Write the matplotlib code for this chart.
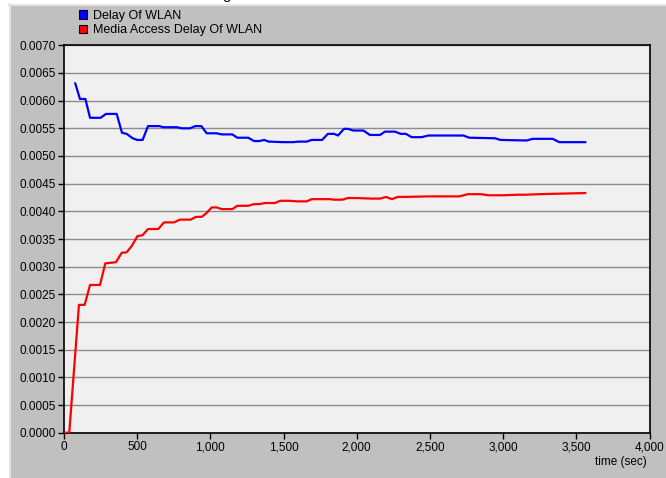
import matplotlib
matplotlib.use("Agg")
import matplotlib.pyplot as plt
from matplotlib.patches import Patch, Rectangle
from matplotlib.ticker import FuncFormatter, MultipleLocator

plt.rcParams['font.family'] = ['Liberation Sans', 'DejaVu Sans']

# Delay Of WLAN (blue)
t_delay = [77, 109, 146, 178, 250, 287, 360, 396, 428, 469, 501, 537, 574, 651, 678,
           770, 804, 861, 897, 938, 975, 1043, 1077, 1150, 1184, 1259, 1298, 1334,
           1368, 1398, 1498, 1567, 1601, 1658, 1692, 1763, 1803, 1845, 1872, 1913,
           1942, 1976, 2045, 2090, 2159, 2193, 2261, 2300, 2336, 2375, 2444, 2489,
           2728, 2769, 2944, 2983, 3161, 3202, 3338, 3384, 3479, 3561]
v_delay = [0.00631, 0.00603, 0.00603, 0.00569, 0.00569, 0.00576, 0.00576, 0.00542,
           0.00540, 0.00532, 0.00529, 0.00529, 0.00554, 0.00554, 0.00552, 0.00552,
           0.00550, 0.00550, 0.00554, 0.00554, 0.00541, 0.00541, 0.00539, 0.00539,
           0.00533, 0.00533, 0.00527, 0.00527, 0.00529, 0.00526, 0.00525, 0.00525,
           0.00526, 0.00526, 0.00529, 0.00529, 0.00540, 0.00540, 0.00537, 0.00549,
           0.00549, 0.00546, 0.00546, 0.00538, 0.00538, 0.00544, 0.00544, 0.00540,
           0.00540, 0.00534, 0.00534, 0.00537, 0.00537, 0.00533, 0.00532, 0.00529,
           0.00528, 0.00531, 0.00531, 0.00525, 0.00525, 0.00525]

# Media Access Delay Of WLAN (red)
t_mac = [0, 36, 102, 141, 178, 246, 282, 355, 394, 428, 462, 501, 537, 574, 644, 683,
         751, 792, 865, 902, 941, 970, 1009, 1043, 1077, 1150, 1184, 1259, 1298, 1334,
         1373, 1441, 1476, 1544, 1590, 1658, 1692, 1817, 1850, 1900, 1940, 2000, 2100,
         2160, 2200, 2240, 2280, 2320, 2500, 2700, 2760, 2850, 2900, 3000, 3100, 3150,
         3250, 3400, 3561]
v_mac = [0.0, 0.0, 0.00231, 0.00231, 0.00267, 0.00267, 0.00306, 0.00308, 0.00325,
         0.00326, 0.00337, 0.00355, 0.00357, 0.00368, 0.00368, 0.00380, 0.00380,
         0.00385, 0.00385, 0.00390, 0.00390, 0.00396, 0.00407, 0.00407, 0.00404,
         0.00404, 0.00410, 0.00410, 0.00413, 0.00413, 0.00415, 0.00415, 0.00419,
         0.00419, 0.00418, 0.00418, 0.00422, 0.00422, 0.00421, 0.00421, 0.00424,
         0.00424, 0.00423, 0.00423, 0.00426, 0.00422, 0.00426, 0.00426, 0.00427,
         0.00427, 0.00431, 0.00431, 0.00429, 0.00429, 0.00430, 0.00430, 0.00431,
         0.00432, 0.00433]

labels = ["Delay Of WLAN", "Media Access Delay Of WLAN"]
colors = ["#0000ff", "#ff0000"]

fig = plt.figure(figsize=(6.66, 4.78), dpi=100)
fig.patch.set_facecolor("white")

# gray panel behind the chart
panel = Rectangle((9 / 666, 0), 1, 1 - 4 / 478, transform=fig.transFigure,
                  facecolor="#c0c0c0", edgecolor="none", zorder=-10)
fig.patches.append(panel)
fig.add_artist(plt.Line2D([9.5 / 666, 9.5 / 666], [0, 1 - 4 / 478], transform=fig.transFigure,
                          color="#e4e4e4", lw=1.5))
fig.add_artist(plt.Line2D([9 / 666, 1], [1 - 4.5 / 478, 1 - 4.5 / 478], transform=fig.transFigure,
                          color="#e4e4e4", lw=1.5))

ax = fig.add_axes([64 / 666, 1 - 432.7 / 478, (649.5 - 64) / 666, (432.7 - 45.3) / 478])
ax.set_facecolor("#f0f0f0")

ax.plot(t_delay, v_delay, color=colors[0], lw=1.6, zorder=3)
ax.plot(t_mac, v_mac, color=colors[1], lw=1.6, zorder=3)

ax.set_xlim(0, 4000)
ax.set_ylim(0, 0.007)
ax.xaxis.set_major_locator(MultipleLocator(500))
ax.yaxis.set_major_locator(MultipleLocator(0.0005))
ax.xaxis.set_major_formatter(FuncFormatter(lambda x, p: f"{x:,.0f}"))
ax.yaxis.set_major_formatter(FuncFormatter(lambda y, p: f"{y:.4f}"))
ax.grid(axis="y", color="#8c8c8c", lw=1.0)
ax.set_axisbelow(True)
ax.tick_params(axis="both", labelsize=8.5, length=4, width=1, color="black", pad=2)
for s in ax.spines.values():
    s.set_color("black")
    s.set_linewidth(1.2)

handles = [Patch(facecolor=c, edgecolor="black", lw=0.8) for c in colors]
fig.legend(handles, labels, loc="upper left", bbox_to_anchor=(79 / 666, 1 - 10 / 478),
           frameon=False, fontsize=9, handlelength=0.65, handleheight=0.65,
           handletextpad=0.5, labelspacing=0.2, borderpad=0, borderaxespad=0)

fig.text(647 / 666, 1 - 462 / 478, "time (sec)", ha="right", va="center", fontsize=8.5)
fig.text(222 / 666, 1 + 1 / 478, "g", ha="left", va="baseline", fontsize=11)

fig.savefig("out.png", dpi=100, facecolor=fig.get_facecolor())
